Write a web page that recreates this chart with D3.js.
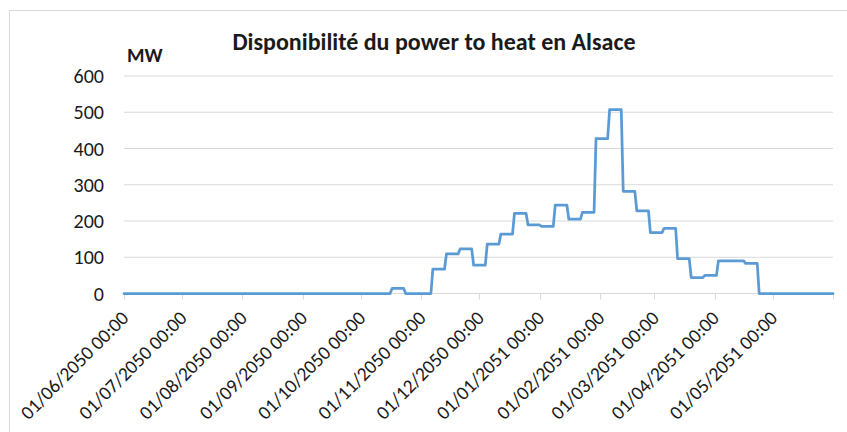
<html>
<head>
<meta charset="utf-8">
<style>
  body { margin: 0; background: #fff; }
  text { font-family: Calibri, Carlito, Lato, sans-serif; fill: #1a1a1a; }
</style>
</head>
<body>
<svg id="container" width="847" height="432"></svg>
<script src="https://cdn.jsdelivr.net/npm/d3@7"></script>
<script>
// weekly availability (MW), weeks start on Monday 30/05/2050
const firstMonday = "2050-05-30"
const weekValues = [
  0, 0, 0, 0, 0, 0, 0, 0, 0, 0,
  0, 0, 0, 0, 0, 0, 0, 0, 0, 0,
  14, 0, 0, 67, 109, 123, 78, 136, 164, 221,
  189, 185, 244, 205, 224, 427, 507, 282, 228, 168,
  180, 96, 44, 50, 90, 90, 83, 0, 0, 0,
  0, 0, 0
]
const monthTicks = [
  "01/06/2050 00:00", "01/07/2050 00:00", "01/08/2050 00:00", "01/09/2050 00:00",
  "01/10/2050 00:00", "01/11/2050 00:00", "01/12/2050 00:00", "01/01/2051 00:00",
  "01/02/2051 00:00", "01/03/2051 00:00", "01/04/2051 00:00", "01/05/2051 00:00"
]
const yTicks = [0, 100, 200, 300, 400, 500, 600]

const parseDay = d3.timeParse("%d/%m/%Y %H:%M")
const svg = d3.select("#container")

// chart frame
svg.append("rect")
    .attr("x", 9.5).attr("y", 10.5)
    .attr("width", 860).attr("height", 440)
    .attr("fill", "none").attr("stroke", "#d9d9d9")

let start = parseDay(monthTicks[0])
let end = d3.timeMonth.offset(start, 12)

let x = d3.scaleTime().domain([start, end]).range([124, 833])
let y = d3.scaleLinear().domain([0, 600]).range([293.5, 76])

// gridlines
svg.append("g").selectAll("line")
    .data(yTicks.filter(d => d > 0))
    .enter().append("line")
    .attr("x1", 124).attr("x2", 833)
    .attr("y1", d => y(d)).attr("y2", d => y(d))
    .attr("stroke", "#d9d9d9").attr("stroke-width", 1)

// y labels
svg.append("g").selectAll("text")
    .data(yTicks)
    .enter().append("text")
    .attr("x", 104).attr("y", d => y(d))
    .attr("dy", "0.35em")
    .attr("text-anchor", "end")
    .style("font-size", "20px")
    .text(d => d)

// x axis line + ticks
let tickDates = monthTicks.map(parseDay).concat([end])
svg.append("line")
    .attr("x1", 124).attr("x2", 833)
    .attr("y1", y(0)).attr("y2", y(0))
    .attr("stroke", "#d9d9d9")
svg.append("g").selectAll("line")
    .data(tickDates)
    .enter().append("line")
    .attr("x1", d => Math.round(x(d)) + 0.5).attr("x2", d => Math.round(x(d)) + 0.5)
    .attr("y1", y(0)).attr("y2", y(0) + 6)
    .attr("stroke", "#d9d9d9")

// x labels, rotated
svg.append("g").selectAll("text")
    .data(monthTicks)
    .enter().append("text")
    .attr("transform", d => "translate(" + (x(parseDay(d)) + 1) + "," + (y(0) + 21) + ") rotate(-45)")
    .attr("text-anchor", "end")
    .attr("dy", "0.35em")
    .style("font-size", "19.5px")
    .text(d => d)

// step line from weekly values (daily resolution)
let monday0 = d3.timeParse("%Y-%m-%d")(firstMonday)
let points = []
weekValues.forEach((v, i) => {
    let a = d3.timeDay.offset(monday0, 7 * i)
    let b = d3.timeDay.offset(a, 6)
    if (b < start) return
    if (a < start) a = start
    if (b > end) b = end
    if (a > end) return
    points.push([a, v], [b, v])
})

let line = d3.line()
    .x(d => x(d[0]))
    .y(d => y(d[1]))

svg.append("path")
    .datum(points)
    .attr("d", line)
    .attr("fill", "none")
    .attr("stroke", "#5b9bd5")
    .attr("stroke-width", 2.75)
    .attr("stroke-linejoin", "round")
    .attr("stroke-linecap", "round")

// title and unit
svg.append("text")
    .attr("x", 434).attr("y", 50)
    .attr("text-anchor", "middle")
    .style("font-size", "24px").style("font-weight", "bold")
    .text("Disponibilité du power to heat en Alsace")

svg.append("text")
    .attr("x", 127).attr("y", 62)
    .style("font-size", "20px").style("font-weight", "bold")
    .text("MW")
</script>
</body>
</html>
